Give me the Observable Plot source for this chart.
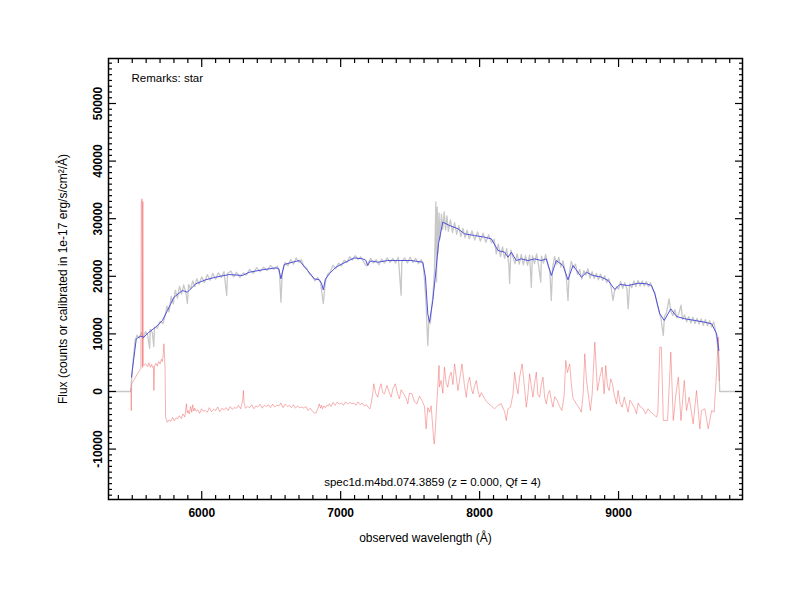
<!DOCTYPE html>
<html>
<head>
<meta charset="utf-8">
<script src="https://cdn.jsdelivr.net/npm/d3@7"></script>
<script src="https://cdn.jsdelivr.net/npm/@observablehq/plot@0.6"></script>
<style>
  html, body { margin: 0; padding: 0; background: #fff; }
  #chart { width: 800px; height: 600px; }
</style>
</head>
<body>
<div id="chart"></div>
<script>
// ---- data (wavelength in Å, flux) ----
const blueWave = [5495,5500,5529,5560,5584,5620,5668,5717,5753,5800,5861,5897,5957,6029,6101,6197,6293,6341,6437,6534,6555,6570,6594,6654,6702,6762,6810,6846,6862,6875,6890,6918,6966,7002,7098,7158,7180,7195,7210,7231,7267,7339,7411,7507,7591,7610,7627,7639,7663,7687,7704,7735,7783,7844,7891,7963,8035,8084,8132,8180,8204,8228,8264,8300,8348,8396,8444,8480,8516,8552,8600,8636,8672,8733,8769,8817,8877,8925,8973,9009,9069,9141,9201,9237,9261,9297,9329,9376,9417,9477,9549,9621,9670,9706,9722];
const blueFlux = [2500,3650,9150,9600,9430,10300,11160,12330,14060,16370,17530,17240,18700,19400,19850,20300,20140,20700,21130,21470,21300,19560,22050,22450,22740,21000,19560,19400,18800,17650,19500,20430,21580,22050,23200,23030,22800,21870,22600,22620,22450,22740,22740,22740,22450,19850,13490,12030,15800,21300,25640,29400,28820,28250,27380,27080,26790,26510,24480,24180,23320,24180,22740,23030,22740,23030,22740,23030,20140,22740,21870,19400,21870,19850,20700,20140,19850,19270,17700,18580,18400,18800,18700,18400,16960,13490,12330,14350,13020,12620,12330,12030,11750,10000,7120];

const redWave = [5490,5493,5496,5510,5524,5538,5553,5562,5565,5570,5573,5576,5580,5596,5610,5620,5630,5640,5645,5652,5656,5660,5670,5680,5690,5700,5710,5717,5722,5728,5736,5740,5753,5765,5778,5790,5803,5815,5828,5840,5853,5865,5878,5890,5896,5903,5910,5920,5928,5935,5943,5950,5960,5972,5985,5998,6010,6025,6040,6055,6070,6085,6100,6115,6130,6145,6160,6175,6190,6205,6220,6235,6250,6265,6280,6295,6300,6305,6315,6330,6345,6360,6375,6390,6405,6420,6435,6450,6465,6480,6495,6510,6525,6540,6555,6570,6585,6600,6615,6630,6645,6660,6675,6690,6705,6720,6735,6750,6765,6780,6795,6810,6822,6835,6846,6855,6862,6870,6880,6890,6900,6910,6918,6930,6945,6960,6975,6990,7005,7020,7035,7050,7065,7080,7095,7110,7125,7140,7155,7170,7185,7200,7210,7220,7230,7238,7252,7267,7279,7291,7303,7315,7333,7351,7363,7375,7393,7411,7423,7435,7453,7471,7483,7495,7513,7531,7549,7567,7585,7603,7615,7627,7640,7651,7672,7675,7708,7711,7723,7735,7747,7759,7771,7783,7795,7808,7820,7832,7844,7856,7873,7891,7904,7916,7928,7940,7952,7963,7976,7988,8000,8012,8030,8048,8066,8084,8108,8132,8156,8180,8192,8204,8222,8240,8252,8264,8276,8288,8306,8324,8336,8348,8360,8372,8384,8396,8408,8420,8432,8444,8456,8468,8480,8492,8504,8516,8528,8540,8558,8576,8592,8608,8620,8632,8648,8660,8672,8696,8720,8732,8745,8757,8769,8785,8797,8810,8829,8848,8865,8882,8896,8908,8920,8932,8944,8956,8968,8985,8997,9009,9026,9041,9057,9069,9081,9099,9117,9129,9141,9159,9177,9195,9213,9231,9250,9273,9283,9297,9308,9322,9353,9376,9394,9413,9430,9449,9473,9489,9508,9537,9561,9585,9597,9621,9645,9670,9688,9706,9718,9725];
const redFlux = [500,-3300,1340,1900,2480,3100,3650,4000,33000,33450,4200,33000,4500,4800,4300,5000,4200,4700,4220,4300,170,4400,4900,4400,5200,4800,5600,5200,6200,8280,4000,-4460,-5330,-4900,-5200,-4500,-5100,-4600,-4700,-4200,-4700,-3900,-4400,-2140,-3700,-3300,-3900,-2600,-3600,-2300,-3400,-2900,-3400,-3200,-3800,-3000,-3400,-3300,-3600,-2800,-3500,-3100,-3300,-2700,-3500,-2900,-3200,-2800,-3300,-2600,-3100,-2800,-2900,-2400,-3000,-1500,170,-2000,-2900,-2600,-2800,-2300,-3000,-2500,-2700,-2200,-2900,-2400,-2600,-2300,-2800,-2200,-2700,-2400,-2500,-2000,-2800,-2200,-2600,-2400,-2800,-2300,-2900,-2500,-2800,-2700,-2900,-2600,-3300,-2900,-3400,-3700,-3760,-3000,-2140,-2900,-2400,-3010,-2500,-2800,-2400,-2500,-2140,-2600,-1900,-2400,-1860,-2200,-2000,-2400,-1800,-2200,-1900,-2100,-2000,-2400,-1800,-2300,-2000,-2500,-2300,-2800,-3010,-2000,-500,1340,-300,-990,500,1340,-200,-400,1040,-300,-990,400,1340,-500,-1270,300,-400,-1200,-2140,-300,-400,-1800,-2140,-800,-1560,-2600,-6480,-2800,-3590,-2500,-9080,-9080,4510,800,1910,-300,4220,1500,750,2600,3350,1200,4800,2500,170,2000,4800,1000,-990,1500,2480,500,-400,900,1910,200,-990,-200,-990,-1700,-2140,-2500,-3010,-2400,-2140,-3500,-5030,-3000,-2720,-500,3350,1000,-400,2500,4800,500,-2720,-400,3070,900,-990,1500,3350,-600,-990,1200,2480,-1000,-2140,-500,170,-1500,-2720,-900,-1560,-2600,-3300,-800,5380,3300,4800,1340,-1200,-2140,-3000,-3590,-500,6540,2000,-990,-3300,-500,8560,170,2480,4220,-400,4510,1000,170,2200,1340,-500,-2140,170,-1800,-2720,-990,-2500,-3590,-1500,-2140,-3000,-3870,-2000,-2720,-3000,-3870,-3000,-3590,-3900,-4460,-3590,7700,7700,-5030,-5030,6830,-5030,-400,2480,-5030,1910,-3300,-990,-5610,170,-6480,-3300,-3000,-6480,-3300,-3590,3650,9430,1910,-6770];

const grayWave = [5322,5488,5495,5505,5520,5535,5550,5565,5580,5595,5610,5625,5630,5645,5655,5660,5680,5700,5720,5735,5750,5765,5780,5795,5810,5825,5840,5855,5870,5885,5897,5905,5920,5935,5950,5965,5980,6000,6020,6040,6060,6080,6100,6120,6140,6160,6180,6185,6210,6230,6250,6275,6300,6320,6345,6370,6395,6420,6445,6470,6495,6520,6545,6560,6570,6580,6600,6620,6640,6660,6680,6700,6715,6735,6755,6775,6795,6815,6835,6855,6875,6890,6905,6925,6945,6965,6985,7005,7025,7045,7065,7085,7105,7125,7145,7165,7185,7200,7215,7235,7255,7275,7295,7315,7335,7355,7375,7395,7415,7435,7440,7460,7480,7500,7520,7540,7560,7580,7595,7605,7615,7627,7635,7645,7655,7665,7675,7685,7690,7695,7700,7708,7715,7725,7735,7745,7755,7765,7775,7790,7805,7820,7835,7850,7865,7880,7895,7910,7925,7945,7965,7985,8005,8025,8045,8065,8085,8105,8120,8135,8150,8165,8180,8195,8210,8216,8225,8240,8255,8270,8285,8300,8315,8330,8345,8360,8372,8380,8395,8410,8425,8440,8445,8460,8475,8490,8505,8516,8525,8540,8555,8570,8585,8600,8615,8625,8636,8645,8660,8675,8690,8705,8720,8735,8750,8765,8780,8795,8810,8825,8840,8855,8870,8885,8900,8915,8930,8945,8960,8970,8985,9000,9015,9030,9045,9060,9069,9080,9095,9110,9125,9140,9155,9170,9185,9200,9215,9230,9245,9260,9275,9290,9305,9322,9330,9345,9364,9375,9390,9405,9420,9435,9450,9460,9475,9490,9505,9520,9535,9550,9565,9580,9595,9610,9625,9640,9655,9670,9685,9700,9710,9720,9728,9890];
const grayFlux = [0,0,2000,5000,8800,9800,9300,10200,9200,10400,9900,7500,10800,10200,7800,11200,11000,12200,11800,13000,14800,13800,16500,15200,17600,16200,18300,16900,18500,17200,15300,18600,17800,19200,18200,19600,18600,19900,18900,20300,19300,20500,19500,20600,19800,20800,16700,20500,20900,19900,20700,19800,20600,20200,21200,20500,21500,20800,21600,21000,21900,21200,21800,20500,15500,20800,22400,21800,22900,22100,23200,22400,22900,21800,21400,20400,20000,19200,19800,18900,15300,19000,20300,20800,21900,21300,22300,21800,22800,22400,23400,22800,23600,22900,23400,22500,21800,22400,23100,22300,22900,22000,23000,22300,23200,22400,23100,22300,23300,16700,22500,23200,22300,23300,22400,23100,22200,22900,21800,19000,15000,8000,12500,11800,14500,17000,21000,32900,19000,32000,24000,31000,26500,30800,28200,31200,28000,30500,27800,29800,27600,29300,27300,28800,26900,28300,26700,28000,26500,27900,26300,27700,26100,27500,25900,27200,25800,26400,23900,25600,23400,25100,23100,24800,22000,18750,24600,23300,22200,23900,22100,23800,22000,23600,21900,23700,18100,23600,22200,23900,21800,19000,23500,22300,23800,22100,21000,15800,21500,23400,22100,23300,21600,22700,21000,19500,15800,20500,22600,21500,22100,20300,21200,19500,21000,20200,21300,19700,20800,19600,20500,19400,20400,19300,20100,18900,19600,18300,15800,17300,18200,17800,19100,17900,18900,17800,14350,18700,18000,19200,18200,19300,18300,19200,18300,19100,18200,18900,17800,17200,15500,14000,12700,9720,13000,13700,16100,14000,13200,14200,12800,13600,15000,12500,13300,12100,13000,11900,12900,11800,12700,11700,12600,11500,12500,11400,12300,11200,12100,10300,8500,6000,0,0];

const xMajor = [6000, 7000, 8000, 9000];
const xMinor = [5400,5500,5600,5700,5800,5900,6100,6200,6300,6400,6500,6600,6700,6800,6900,7100,7200,7300,7400,7500,7600,7700,7800,7900,8100,8200,8300,8400,8500,8600,8700,8800,8900,9100,9200,9300,9400,9500,9600,9700,9800];
const yMajor = [-10000, 0, 10000, 20000, 30000, 40000, 50000];
const yMinor = [-18000,-17000,-16000,-15000,-14000,-13000,-12000,-11000,-9000,-8000,-7000,-6000,-5000,-4000,-3000,-2000,-1000,1000,2000,3000,4000,5000,6000,7000,8000,9000,11000,12000,13000,14000,15000,16000,17000,18000,19000,21000,22000,23000,24000,25000,26000,27000,28000,29000,31000,32000,33000,34000,35000,36000,37000,38000,39000,41000,42000,43000,44000,45000,46000,47000,48000,49000,51000,52000,53000,54000,55000,56000,57000];

const remarkText = "Remarks: star";
const specText = "spec1d.m4bd.074.3859 (z = 0.000, Qf = 4)";
const xTitle = "observed wavelength (Å)";
const yTitle = "Flux (counts or calibrated in 1e-17 erg/s/cm²/Å)";

// ---- build tables ----
const blue = blueWave.map((w, i) => ({w, f: blueFlux[i]}));
const red = redWave.map((w, i) => ({w, f: redFlux[i]}));
const gray = grayWave.map((w, i) => ({w, f: grayFlux[i]}));

const font = "Liberation Sans, Arial, Helvetica, sans-serif";
const tickStyle = {stroke: "black", strokeWidth: 1.2};

const chart = Plot.plot({
  width: 800,
  height: 600,
  marginLeft: 108,
  marginRight: 58,
  marginTop: 58,
  marginBottom: 101,
  style: {fontFamily: font, background: "white", color: "black"},
  x: {domain: [5329, 9892], axis: null},
  y: {domain: [-18750, 57813], axis: null},
  marks: [
    Plot.line(gray, {x: "w", y: "f", stroke: "#c8c8c8", strokeWidth: 1.3, clip: true}),
    Plot.line(red, {x: "w", y: "f", stroke: "#ef5a5a", strokeWidth: 0.6, strokeOpacity: 0.8, clip: true}),
    Plot.line(blue, {x: "w", y: "f", stroke: "#5050dc", strokeWidth: 1, clip: true}),
    Plot.frame({stroke: "black", strokeWidth: 1.5}),
    // ticks (inward) on all four sides
    Plot.axisX({ticks: xMajor, anchor: "bottom", tickSize: -8, tickFormat: () => "", label: null, ...tickStyle}),
    Plot.axisX({ticks: xMinor, anchor: "bottom", tickSize: -4, tickFormat: () => "", label: null, ...tickStyle}),
    Plot.axisX({ticks: xMajor, anchor: "top", tickSize: -8, tickFormat: () => "", label: null, ...tickStyle}),
    Plot.axisX({ticks: xMinor, anchor: "top", tickSize: -4, tickFormat: () => "", label: null, ...tickStyle}),
    Plot.axisY({ticks: yMajor, anchor: "left", tickSize: -8, tickFormat: () => "", label: null, ...tickStyle}),
    Plot.axisY({ticks: yMinor, anchor: "left", tickSize: -4, tickFormat: () => "", label: null, ...tickStyle}),
    Plot.axisY({ticks: yMajor, anchor: "right", tickSize: -8, tickFormat: () => "", label: null, ...tickStyle}),
    Plot.axisY({ticks: yMinor, anchor: "right", tickSize: -4, tickFormat: () => "", label: null, ...tickStyle}),
    // tick labels
    Plot.text(xMajor, {x: d => d, frameAnchor: "bottom", dy: 17, text: d => String(d), fontWeight: "bold", fontSize: 12, fill: "black"}),
    Plot.text(yMajor, {y: d => d, frameAnchor: "left", dx: -10, rotate: -90, textAnchor: "middle", text: d => String(d), fontWeight: "bold", fontSize: 12, fill: "black"}),
    // titles and annotations
    Plot.text([xTitle], {frameAnchor: "bottom", dy: 42, text: d => d, fontSize: 12, fill: "black"}),
    Plot.text([yTitle], {frameAnchor: "left", dx: -45, rotate: -90, textAnchor: "middle", text: d => d, fontSize: 12, fill: "black"}),
    Plot.text([remarkText], {frameAnchor: "top-left", dx: 23, dy: 15, textAnchor: "start", text: d => d, fontSize: 11.5, fill: "black"}),
    Plot.text([specText], {frameAnchor: "bottom", dx: 7, dy: -14, text: d => d, fontSize: 11.5, fill: "black"})
  ]
});
document.getElementById("chart").appendChild(chart);
</script>
</body>
</html>
